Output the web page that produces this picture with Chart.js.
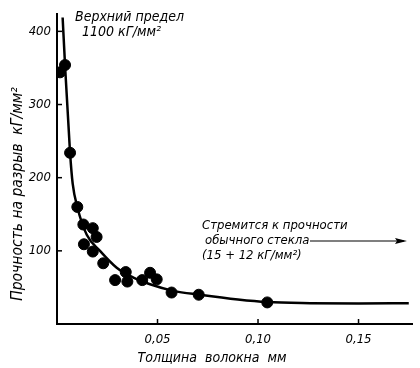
<!DOCTYPE html>
<html><head><meta charset="utf-8">
<script src="https://cdn.jsdelivr.net/npm/chart.js@4/dist/chart.umd.min.js"></script>
<style>html,body{margin:0;padding:0;background:#fff}#wrap{width:420px;height:368px;position:relative}</style>
</head><body><div id="wrap"><canvas id="c" width="420" height="368"></canvas></div>
<script>
// measured points
const pointX = [0.0015,0.004,0.0065,0.0101,0.0131,0.0178,0.0197,0.0134,0.0178,0.023,0.0289,0.0342,0.035,0.0424,0.0463,0.0496,0.057,0.0705,0.1046];
const pointY = [344,354,234,160,136,131,119,109,99,83,60,71,58,60,70,61,43,40,29.5];
// fitted curve
const curveX = [0.0028,0.004,0.0065,0.0078,0.0101,0.0148,0.0214,0.0297,0.038,0.0463,0.0579,0.0711,0.09,0.1046,0.126,0.15,0.175];
const curveY = [419,354,234,192,160,122,100,77,63.5,54.4,45.3,40,33.5,30,28.5,28,28.5];
const xTicks = [0.05,0.10,0.15];
const yTicks = [100,200,300,400];
const xTickLabels = ['0,05','0,10','0,15'];
const yTitle = 'Прочность на разрыв  кГ/мм²';
const xTitle = 'Толщина  волокна  мм';
const note1 = ['Верхний предел','1100 кГ/мм²'];
const note2 = ['Стремится к прочности','обычного стекла','(15 + 12 кГ/мм²)'];

const FONT = "'Liberation Sans Narrow','DejaVu Sans Condensed',sans-serif";

const pts = pointX.map((x,i)=>({x, y: pointY[i]}));
const crv = curveX.map((x,i)=>({x, y: curveY[i]}));

const deco = {
  id:'deco',
  afterDraw(chart){
    const ctx = chart.ctx, xs = chart.scales.x, ys = chart.scales.y;
    const ca = chart.chartArea;
    ctx.save();
    ctx.strokeStyle='#000'; ctx.lineWidth=1.5;
    xTicks.forEach(v=>{const px=xs.getPixelForValue(v);ctx.beginPath();ctx.moveTo(px,ca.bottom);ctx.lineTo(px,ca.bottom-5);ctx.stroke();});
    yTicks.forEach(v=>{const py=ys.getPixelForValue(v);ctx.beginPath();ctx.moveTo(ca.left,py);ctx.lineTo(ca.left+5,py);ctx.stroke();});
    ctx.fillStyle='#000';
    ctx.font = "italic 14px "+FONT;
    ctx.textBaseline='alphabetic'; ctx.textAlign='left';
    ctx.fillText(note1[0], 75, 21);
    ctx.fillText(note1[1], 82, 36);
    ctx.font = "italic 13px "+FONT;
    ctx.fillText(note2[0], 202, 229);
    ctx.fillText(note2[1], 205, 244);
    ctx.fillText(note2[2], 202, 259);
    ctx.lineWidth=1.2;
    ctx.beginPath();ctx.moveTo(310,241);ctx.lineTo(404,241);ctx.stroke();
    ctx.beginPath();ctx.moveTo(407,241);ctx.lineTo(395,238);ctx.lineTo(397,241);ctx.lineTo(395,244);ctx.closePath();ctx.fill();
    ctx.font = "italic 14px "+FONT;
    ctx.textAlign='center'; ctx.textBaseline='middle';
    ctx.fillText(xTitle, 212, 358);
    ctx.font = "italic 15.5px "+FONT;
    ctx.translate(18,194); ctx.rotate(-Math.PI/2);
    ctx.fillText(yTitle, 0, 0);
    ctx.restore();
  }
};

new Chart(document.getElementById('c'), {
  type:'scatter',
  data:{datasets:[
    {data:crv, showLine:true, borderColor:'#000', borderWidth:2.5, pointRadius:0, cubicInterpolationMode:'monotone', fill:false, order:2},
    {data:pts, showLine:false, backgroundColor:'#000', borderColor:'#000', pointRadius:5.5, order:1}
  ]},
  options:{
    responsive:false, animation:false, devicePixelRatio:1,
    layout:{padding:{left:0,right:8,top:12,bottom:0}},
    plugins:{legend:{display:false}, tooltip:{enabled:false}},
    scales:{
      x:{type:'linear', min:0, max:0.1766,
        afterFit(s){s.height=44;},
        afterBuildTicks(s){s.ticks = xTicks.map(v=>({value:v}));},
        grid:{display:false, drawTicks:false},
        border:{display:true, color:'#000', width:2},
        ticks:{padding:8, color:'#000', font:{family:FONT, size:13, style:'italic'}, maxRotation:0,
          callback:(v)=>{const i=xTicks.findIndex(t=>Math.abs(t-v)<1e-9);return i>=0?xTickLabels[i]:'';}}
      },
      y:{type:'linear', min:0, max:424,
        afterFit(s){s.width=57;},
        afterBuildTicks(s){s.ticks = yTicks.map(v=>({value:v}));},
        grid:{display:false, drawTicks:false},
        border:{display:true, color:'#000', width:2},
        ticks:{padding:6, color:'#000', font:{family:FONT, size:13, style:'italic'}}
      }
    }
  },
  plugins:[deco]
});
</script></body></html>
